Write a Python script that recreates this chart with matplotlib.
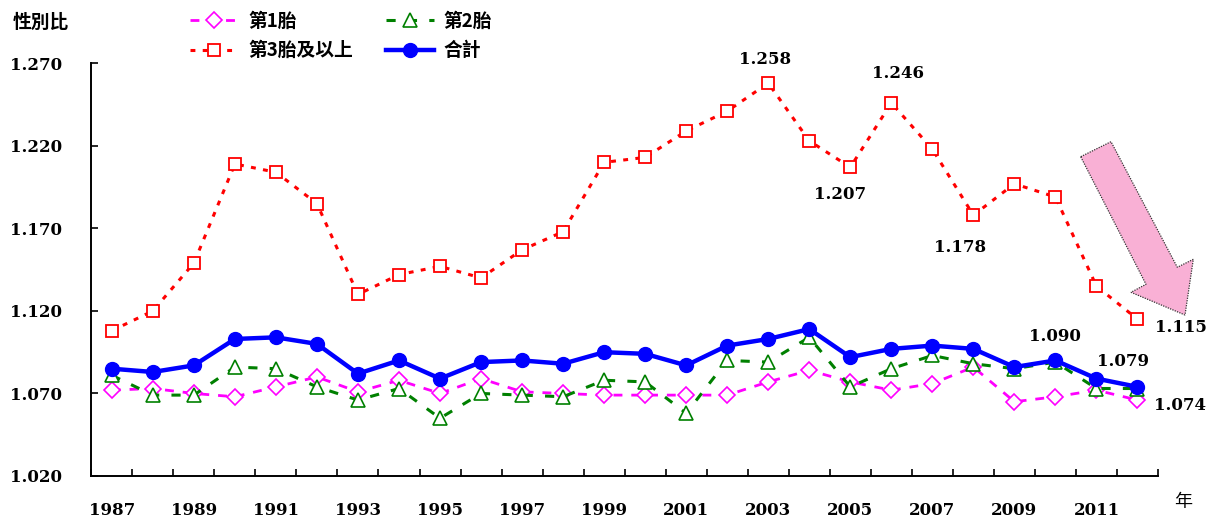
import matplotlib
matplotlib.use("Agg")
import matplotlib.pyplot as plt
from matplotlib.patches import Polygon
import numpy as np

plt.rcParams['font.family'] = ['Noto Sans CJK TC', 'DejaVu Sans']

years = list(range(1987, 2013))
first = [1.072, 1.073, 1.070, 1.068, 1.074, 1.080, 1.071, 1.078, 1.070, 1.079,
         1.071, 1.070, 1.069, 1.069, 1.069, 1.069, 1.077, 1.084, 1.077, 1.072,
         1.076, 1.086, 1.065, 1.068, 1.072, 1.066]
second = [1.081, 1.069, 1.069, 1.086, 1.085, 1.074, 1.066, 1.073, 1.055, 1.070,
          1.069, 1.068, 1.078, 1.077, 1.058, 1.090, 1.089, 1.104, 1.074, 1.085,
          1.093, 1.088, 1.085, 1.089, 1.073, 1.073]
third = [1.108, 1.120, 1.149, 1.209, 1.204, 1.185, 1.130, 1.142, 1.147, 1.140,
         1.157, 1.168, 1.210, 1.213, 1.229, 1.241, 1.258, 1.223, 1.207, 1.246,
         1.218, 1.178, 1.197, 1.189, 1.135, 1.115]
total = [1.085, 1.083, 1.087, 1.103, 1.104, 1.100, 1.082, 1.090, 1.079, 1.089,
         1.090, 1.088, 1.095, 1.094, 1.087, 1.099, 1.103, 1.109, 1.092, 1.097,
         1.099, 1.097, 1.086, 1.090, 1.079, 1.074]
series_names = ['第1胎', '第2胎', '第3胎及以上', '合計']
ytick_vals = [1.020, 1.070, 1.120, 1.170, 1.220, 1.270]

W, H = 1229, 519
fig = plt.figure(figsize=(W / 100, H / 100), dpi=100)
ax = fig.add_axes([91.3 / W, 1 - 476 / H, (1158 - 91.3) / W, (476 - 63.3) / H])

x = np.arange(len(years))
num_font = dict(family='DejaVu Serif', weight='bold', size=12)

l1, = ax.plot(x, first, color='#FF00FF', lw=2.0, dashes=(3.2, 3.2), marker='D', ms=8.5,
              mfc='white', mec='#FF00FF', mew=1.2, label=series_names[0])
l2, = ax.plot(x, second, color='#008000', lw=2.2, dashes=(3.0, 4.0), marker='^', ms=10,
              mfc='white', mec='#008000', mew=1.2, label=series_names[1])
l3, = ax.plot(x, third, color='#FF0000', lw=2.2, dashes=(1.6, 2.4), marker='s', ms=9,
              mfc='white', mec='#FF0000', mew=1.3, label=series_names[2])
l4, = ax.plot(x, total, color='#0000FF', lw=3.2, marker='o', ms=10,
              mfc='#0000FF', mec='#0000FF', label=series_names[3])

ax.set_xlim(-0.5, len(years) - 0.5)
ax.set_ylim(ytick_vals[0], ytick_vals[-1])
ax.set_yticks(ytick_vals)
ax.set_yticklabels([f"{v:.3f}" for v in ytick_vals], fontdict=num_font)
ax.set_xticks(x[::2])
ax.set_xticklabels([str(y) for y in years[::2]], fontdict=num_font)
ax.set_xticks(np.arange(-0.5, len(years)), minor=True)
ax.tick_params(axis='x', which='major', length=0, pad=19)
ax.tick_params(axis='x', which='minor', direction='in', length=5, width=1.2)
ax.tick_params(axis='y', direction='in', length=5, width=1.2, pad=21)
for s in ['top', 'right']:
    ax.spines[s].set_visible(False)
for s in ['left', 'bottom']:
    ax.spines[s].set_linewidth(1.4)

# annotations (offsets in pixels)
ann = [
    (third, 16, (-3, 24)),
    (third, 18, (-10, -27)),
    (third, 19, (7, 29)),
    (third, 21, (-13, -32)),
    (third, 25, (43, -8)),
    (total, 23, (0, 24)),
    (total, 24, (27, 17)),
    (total, 25, (43, -19)),
]
for ser, i, off in ann:
    ax.annotate(f"{ser[i]:.3f}", xy=(x[i], ser[i]), xytext=off, textcoords='offset pixels',
                ha='center', va='center', fontfamily='DejaVu Serif', fontweight='bold', fontsize=12)

# legend
leg = ax.legend(handles=[l1, l3, l2, l4], ncol=2, loc='upper left',
                bbox_to_anchor=(190 / W, 1 - 12 / H), bbox_transform=fig.transFigure,
                frameon=False, borderpad=0, borderaxespad=0, handlelength=2.55,
                handletextpad=0.55, columnspacing=1.75, labelspacing=0.55, numpoints=1,
                prop=dict(family=['Noto Sans CJK TC', 'DejaVu Sans'], weight='bold', size=13.5))

fig.text(41 / W, 1 - 22 / H, '性別比', ha='center', va='center', fontsize=13.5, fontweight='bold')
fig.text(1183 / W, 1 - 502 / H, '年', ha='center', va='center', fontsize=13)

# pink arrow
arrow_px = [(1080.7, 156.7), (1111, 141.7), (1177.3, 267.3), (1193.3, 259.3),
            (1185, 315), (1131, 292.3), (1146, 284.3)]
poly = Polygon([(px / W, 1 - py / H) for px, py in arrow_px], closed=True,
               transform=fig.transFigure, facecolor='#F9B0D5', edgecolor='#333333',
               linestyle=(0, (1, 1)), linewidth=0.9, zorder=5)
fig.patches.append(poly)

fig.savefig('out.png', dpi=100)
